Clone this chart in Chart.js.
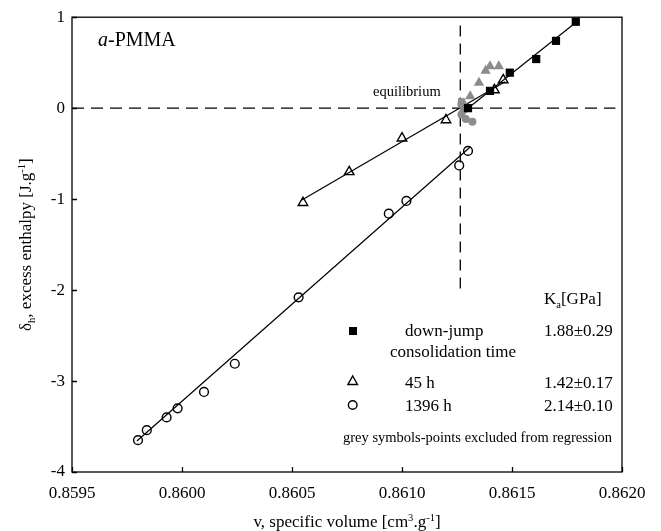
<!DOCTYPE html>
<html>
<head>
<meta charset="utf-8">
<script src="https://cdn.jsdelivr.net/npm/chart.js@4.4.0/dist/chart.umd.min.js"></script>
<style>
  html, body { margin: 0; padding: 0; background: #fff; }
  canvas { display: block; }
</style>
</head>
<body>
<canvas id="chart" width="661" height="531"></canvas>
<script>
// down-jump (black squares)
const downJumpV = [0.86130, 0.86140, 0.86149, 0.86161, 0.86170, 0.86179]
const downJumpH = [0.00, 0.19, 0.39, 0.54, 0.74, 0.95]
const downJumpFitV = [0.86129, 0.86180]
const downJumpFitH = [-0.02, 0.96]

// 45 h (open triangles)
const h45V = [0.86055, 0.86076, 0.86100, 0.86120, 0.86142, 0.86146]
const h45H = [-1.04, -0.70, -0.33, -0.13, 0.20, 0.31]
const h45FitV = [0.860545, 0.861468]
const h45FitH = [-1.01, 0.29]

// 1396 h (open circles)
const h1396V = [0.85980, 0.85984, 0.85993, 0.85998, 0.86010, 0.86024, 0.86053, 0.86094, 0.86102, 0.86126, 0.86130]
const h1396H = [-3.65, -3.54, -3.40, -3.30, -3.12, -2.81, -2.08, -1.16, -1.02, -0.63, -0.47]
const h1396FitV = [0.859795, 0.861309]
const h1396FitH = [-3.66, -0.43]

// grey symbols, excluded from regression
const greyTriV = [0.86128, 0.86131, 0.86135, 0.86138, 0.86140, 0.86144]
const greyTriH = [0.05, 0.13, 0.28, 0.41, 0.46, 0.46]
const greyCircV = [0.86127, 0.86128, 0.86127, 0.86129, 0.86132]
const greyCircH = [0.04, -0.02, -0.07, -0.12, -0.15]
const greySqV = [0.86127, 0.86128]
const greySqH = [0.07, 0.01]

// equilibrium guides
const eqLineV = [0.8595, 0.86197]
const eqLineH = [0, 0]
const vEqV = [0.861265, 0.861265]
const vEqH = [0.91, -2.0]

// legend
const legendLabels = ['down-jump', '45 h', '1396 h']
const legendKa = ['1.88±0.29', '1.42±0.17', '2.14±0.10']

const serif = "'Liberation Serif', 'Times New Roman', serif"
const grey = '#8c8c8c'

const pts = (xs, ys) => xs.map((x, i) => ({ x: x, y: ys[i] }))

function fontFor(p, size) {
    let s = p.sub || p.sup ? size * 0.62 : size
    return `${p.italic ? 'italic ' : ''}${s}px ${serif}`
}

function drawRich(ctx, parts, x, y, size, align) {
    let w = 0
    parts.forEach(p => { ctx.font = fontFor(p, size); w += ctx.measureText(p.t).width })
    let cx = align === 'center' ? x - w / 2 : align === 'right' ? x - w : x
    ctx.textAlign = 'left'
    ctx.textBaseline = 'alphabetic'
    parts.forEach(p => {
        ctx.font = fontFor(p, size)
        let dy = p.sub ? size * 0.22 : p.sup ? -size * 0.38 : 0
        ctx.fillText(p.t, cx, y + dy)
        cx += ctx.measureText(p.t).width
    })
}

const decorations = {
    id: 'decorations',
    afterDraw(chart) {
        const ctx = chart.ctx
        const { left, right, top, bottom } = chart.chartArea
        const xs = chart.scales.x
        const ys = chart.scales.y
        ctx.save()
        ctx.strokeStyle = '#000'
        ctx.fillStyle = '#000'
        ctx.lineWidth = 1.3
        ctx.strokeRect(left, top, right - left, bottom - top)

        // inward tick marks
        ctx.beginPath()
        xs.ticks.forEach(t => {
            let px = Math.round(xs.getPixelForValue(t.value)) + 0.5
            ctx.moveTo(px, bottom); ctx.lineTo(px, bottom - 5)
        })
        ys.ticks.forEach(t => {
            let py = Math.round(ys.getPixelForValue(t.value)) + 0.5
            ctx.moveTo(left, py); ctx.lineTo(left + 5, py)
        })
        ctx.stroke()

        // axis titles
        drawRich(ctx, [{ t: 'v, specific volume [cm' }, { t: '3', sup: true }, { t: '.g' }, { t: '-1', sup: true }, { t: ']' }],
            (left + right) / 2, 527, 17, 'center')
        ctx.save()
        ctx.translate(31, (top + bottom) / 2)
        ctx.rotate(-Math.PI / 2)
        drawRich(ctx, [{ t: 'δ' }, { t: 'h', sub: true }, { t: ', excess enthalpy [J.g' }, { t: '-1', sup: true }, { t: ']' }],
            0, 0, 17, 'center')
        ctx.restore()

        // annotations
        drawRich(ctx, [{ t: 'a', italic: true }, { t: '-PMMA' }], 98, 46, 20, 'left')
        drawRich(ctx, [{ t: 'equilibrium' }], 373, 96, 14.5, 'left')

        // legend
        drawRich(ctx, [{ t: 'K' }, { t: 'a', sub: true }, { t: '[GPa]' }], 544, 304, 17, 'left')
        drawRich(ctx, [{ t: legendLabels[0] }], 405, 336, 17, 'left')
        drawRich(ctx, [{ t: 'consolidation time' }], 390, 357, 17, 'left')
        drawRich(ctx, [{ t: legendLabels[1] }], 405, 388, 17, 'left')
        drawRich(ctx, [{ t: legendLabels[2] }], 405, 411, 17, 'left')
        drawRich(ctx, [{ t: legendKa[0] }], 544, 336, 17, 'left')
        drawRich(ctx, [{ t: legendKa[1] }], 544, 388, 17, 'left')
        drawRich(ctx, [{ t: legendKa[2] }], 544, 411, 17, 'left')
        drawRich(ctx, [{ t: 'grey symbols-points excluded from regression' }], 612, 442, 14.5, 'right')

        // legend symbols
        ctx.fillRect(349, 327, 8, 8)
        ctx.lineWidth = 1.4
        ctx.beginPath()
        ctx.moveTo(352.7, 376); ctx.lineTo(357.5, 384.5); ctx.lineTo(347.9, 384.5); ctx.closePath()
        ctx.stroke()
        ctx.beginPath()
        ctx.arc(352.7, 405, 4.3, 0, Math.PI * 2)
        ctx.stroke()
        ctx.restore()
    }
}

Chart.defaults.font.family = serif
Chart.defaults.color = '#000'

const scatter = (data, style, radius, fill, border, bw) => ({
    data: data, showLine: false, pointStyle: style, pointRadius: radius, pointHoverRadius: radius,
    pointBackgroundColor: fill, pointBorderColor: border, pointBorderWidth: bw
})
const line = (data, dash) => ({
    data: data, showLine: true, pointRadius: 0, borderColor: '#000', borderWidth: dash ? 1.3 : 1.2,
    borderDash: dash || [], fill: false
})

new Chart(document.getElementById('chart').getContext('2d'), {
    type: 'scatter',
    data: {
        datasets: [
            scatter(pts(downJumpV, downJumpH), 'rect', 5.8, '#000', '#000', 0),
            scatter(pts(h45V, h45H), 'triangle', 5.5, 'rgba(0,0,0,0)', '#000', 1.4),
            scatter(pts(h1396V, h1396H), 'circle', 4.4, 'rgba(0,0,0,0)', '#000', 1.4),
            scatter(pts(greyTriV, greyTriH), 'triangle', 6, grey, grey, 0),
            scatter(pts(greyCircV, greyCircH), 'circle', 4, grey, grey, 0),
            scatter(pts(greySqV, greySqH), 'rect', 5, grey, grey, 0),
            line(pts(downJumpFitV, downJumpFitH)),
            line(pts(h45FitV, h45FitH)),
            line(pts(h1396FitV, h1396FitH)),
            line(pts(eqLineV, eqLineH), [12, 7]),
            line(pts(vEqV, vEqH), [11, 7])
        ]
    },
    options: {
        responsive: false,
        animation: false,
        clip: false,
        layout: { padding: { top: 15, right: 39, left: 0, bottom: 0 } },
        plugins: { legend: { display: false }, tooltip: { enabled: false } },
        scales: {
            x: {
                type: 'linear',
                min: 0.8595,
                max: 0.862,
                grid: { display: false, drawTicks: false },
                border: { display: false },
                ticks: {
                    stepSize: 0.0005,
                    padding: 11,
                    autoSkip: false,
                    maxRotation: 0,
                    font: { size: 17 },
                    callback: v => v.toFixed(4)
                },
                afterFit: s => { s.height = 59 }
            },
            y: {
                type: 'linear',
                min: -4,
                max: 1,
                grid: { display: false, drawTicks: false },
                border: { display: false },
                ticks: {
                    stepSize: 1,
                    padding: 7,
                    font: { size: 17 },
                    callback: v => String(v)
                },
                afterFit: s => { s.width = 72 }
            }
        }
    },
    plugins: [decorations]
})
</script>
</body>
</html>
